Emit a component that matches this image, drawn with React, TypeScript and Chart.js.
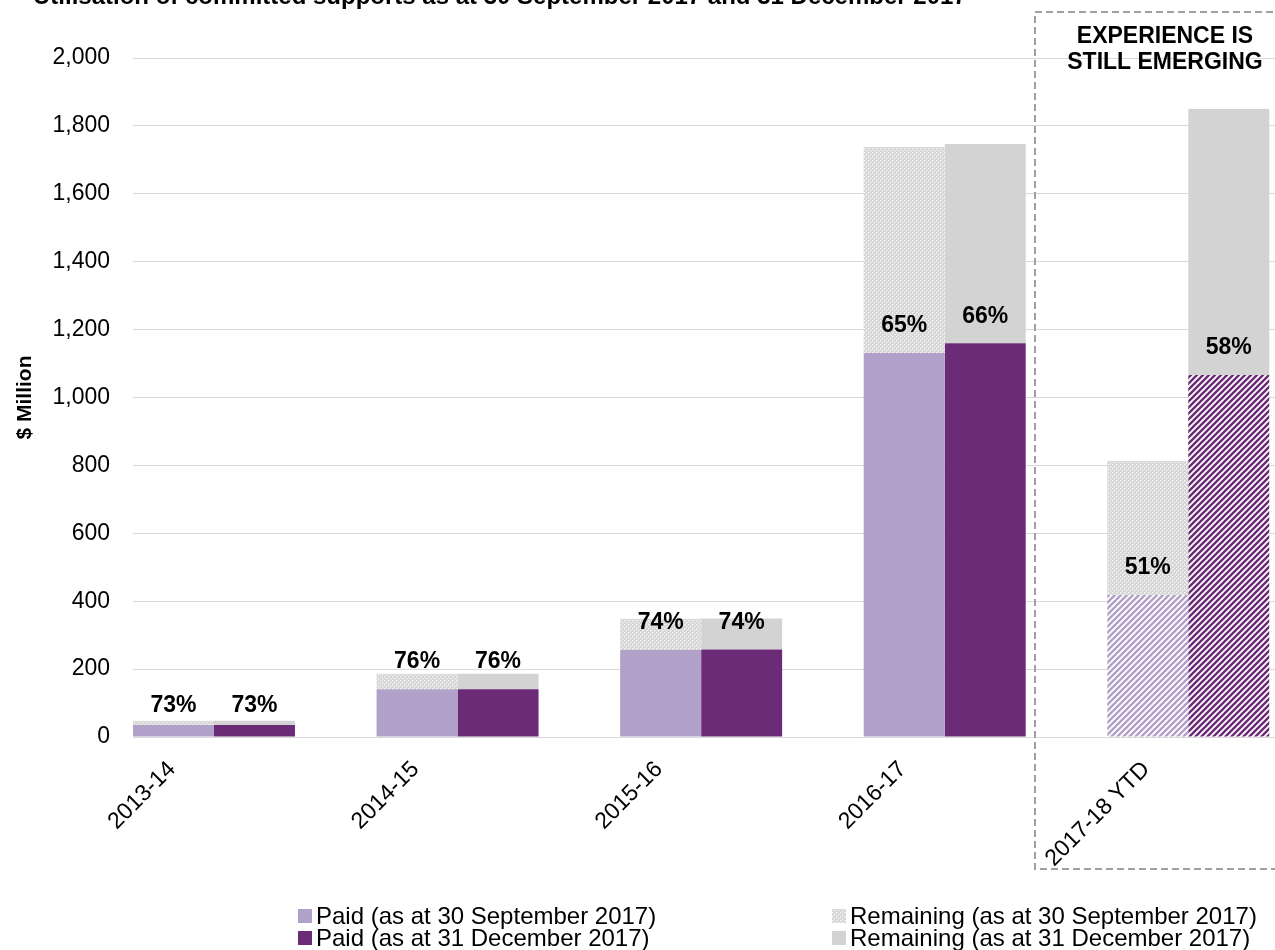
import React, { useEffect, useRef } from 'react';
import { Chart, registerables } from 'chart.js';

Chart.register(...registerables);

const categories = ['2013-14', '2014-15', '2015-16', '2016-17', '2017-18 YTD'];
const paidSep = [35, 141, 256, 1131, 418];
const remainingSep = [13, 45, 92, 607, 395];
const paidDec = [35, 141, 258, 1160, 1066];
const remainingDec = [13, 45, 91, 587, 784];
const pctSep = ['73%', '76%', '74%', '65%', '51%'];
const pctDec = ['73%', '76%', '74%', '66%', '58%'];
const legendLabels = [
  'Paid (as at 30 September 2017)',
  'Paid (as at 31 December 2017)',
  'Remaining (as at 30 September 2017)',
  'Remaining (as at 31 December 2017)',
];
const titleText = 'Utilisation of committed supports as at 30 September 2017 and 31 December 2017';
const boxLines = ['EXPERIENCE IS', 'STILL EMERGING'];
const yAxisTitle = '$ Million';

const FONT = '"Liberation Sans", Arial, sans-serif';
const C_PAID_SEP = '#b1a0c7';
const C_PAID_DEC = '#6c2b76';
const C_REM_DEC = '#d3d3d3';

function makeChecker(): CanvasPattern | string {
  const c = document.createElement('canvas');
  c.width = 4;
  c.height = 4;
  const x = c.getContext('2d');
  if (!x) return '#e0e0e0';
  x.fillStyle = '#d6d6d6';
  x.fillRect(0, 0, 4, 4);
  x.fillStyle = '#f4f4f4';
  x.fillRect(0, 0, 1, 1);
  x.fillRect(2, 2, 1, 1);
  x.fillStyle = '#e6e6e6';
  x.fillRect(1, 0, 1, 1);
  x.fillRect(0, 1, 1, 1);
  x.fillRect(3, 2, 1, 1);
  x.fillRect(2, 3, 1, 1);
  const p = x.createPattern(c, 'repeat');
  return p || '#e0e0e0';
}

function makeStripes(color: string): CanvasPattern | string {
  const s = 6;
  const c = document.createElement('canvas');
  c.width = s;
  c.height = s;
  const x = c.getContext('2d');
  if (!x) return color;
  x.fillStyle = '#ffffff';
  x.fillRect(0, 0, s, s);
  x.strokeStyle = color;
  x.lineWidth = 2.4;
  x.beginPath();
  x.moveTo(-1, s + 1);
  x.lineTo(s + 1, -1);
  x.moveTo(-s / 2 - 1, s / 2 + 1);
  x.lineTo(s / 2 + 1, -s / 2 - 1);
  x.moveTo(s / 2 - 1, s * 1.5 + 1);
  x.lineTo(s * 1.5 + 1, s / 2 - 1);
  x.stroke();
  const p = x.createPattern(c, 'repeat');
  return p || color;
}

export default function App() {
  const ref = useRef<HTMLCanvasElement | null>(null);

  useEffect(() => {
    const canvas = ref.current;
    if (!canvas) return;
    const checker = makeChecker();
    const stripeLight = makeStripes(C_PAID_SEP);
    const stripeDark = makeStripes(C_PAID_DEC);
    const last = categories.length - 1;
    const paidSepColors = categories.map((_, i) => (i === last ? stripeLight : C_PAID_SEP));
    const paidDecColors = categories.map((_, i) => (i === last ? stripeDark : C_PAID_DEC));
    const toXY = (arr: number[]) => arr.map((v, i) => ({ x: i, y: v }));

    const overlay = {
      id: 'overlay',
      afterDraw(chart: any) {
        const ctx = chart.ctx as CanvasRenderingContext2D;
        ctx.save();
        // title (partly cut off at top)
        ctx.fillStyle = '#000';
        ctx.font = `bold 24px ${FONT}`;
        ctx.textAlign = 'left';
        ctx.textBaseline = 'alphabetic';
        ctx.fillText(titleText, 33, 4);

        // dashed box
        ctx.setLineDash([7, 4]);
        ctx.strokeStyle = '#a0a0a0';
        ctx.lineWidth = 2;
        ctx.strokeRect(1035, 12, 320, 857);
        ctx.setLineDash([]);
        ctx.font = `bold 23px ${FONT}`;
        ctx.textAlign = 'center';
        ctx.textBaseline = 'middle';
        ctx.fillText(boxLines[0], 1165, 37);
        ctx.fillText(boxLines[1], 1165, 63);

        // percentage labels
        const mPS = chart.getDatasetMeta(0);
        const mRS = chart.getDatasetMeta(1);
        const mPD = chart.getDatasetMeta(2);
        const mRD = chart.getDatasetMeta(3);
        ctx.font = `bold 23px ${FONT}`;
        for (let i = 0; i < categories.length; i++) {
          const pairs: [any, any, string][] = [
            [mPS.data[i], mRS.data[i], pctSep[i]],
            [mPD.data[i], mRD.data[i], pctDec[i]],
          ];
          for (const [p, r, t] of pairs) {
            const y = Math.max(p.y - 27, r.y - 15);
            ctx.fillText(t, p.x, y);
          }
        }

        // legend
        const items = [
          { color: C_PAID_SEP, label: legendLabels[0], x: 298, y: 916 },
          { color: C_PAID_DEC, label: legendLabels[1], x: 298, y: 938 },
          { color: checker, label: legendLabels[2], x: 832, y: 916 },
          { color: C_REM_DEC, label: legendLabels[3], x: 832, y: 938 },
        ];
        ctx.font = `24px ${FONT}`;
        ctx.textAlign = 'left';
        ctx.textBaseline = 'middle';
        for (const it of items) {
          ctx.fillStyle = it.color as any;
          ctx.fillRect(it.x, it.y - 7, 14, 14);
          ctx.fillStyle = '#000';
          ctx.fillText(it.label, it.x + 18, it.y + 1);
        }
        ctx.restore();
      },
    };

    const chart = new Chart(canvas, {
      type: 'bar',
      data: {
        datasets: [
          { label: legendLabels[0], data: toXY(paidSep) as any, backgroundColor: paidSepColors as any, stack: 'sep' },
          { label: legendLabels[2], data: toXY(remainingSep) as any, backgroundColor: checker as any, stack: 'sep' },
          { label: legendLabels[1], data: toXY(paidDec) as any, backgroundColor: paidDecColors as any, stack: 'dec' },
          { label: legendLabels[3], data: toXY(remainingDec) as any, backgroundColor: C_REM_DEC, stack: 'dec' },
        ],
      },
      options: {
        responsive: false,
        animation: false,
        devicePixelRatio: 1,
        categoryPercentage: 0.665,
        barPercentage: 1.0,
        layout: { padding: { top: 58, left: 0, right: 0, bottom: 0 } },
        plugins: {
          legend: { display: false },
          title: { display: false },
          tooltip: { enabled: false },
        },
        scales: {
          x: {
            type: 'linear',
            offset: false,
            bounds: 'data',
            min: -0.3325,
            max: 4.356,
            grid: { display: false, offset: false },
            border: { display: false },
            afterBuildTicks: (scale: any) => {
              scale.ticks = categories.map((_, i) => ({ value: i }));
            },
            afterFit: (scale: any) => {
              scale.height = 950 - 737;
            },
            ticks: {
              autoSkip: false,
              minRotation: 45,
              maxRotation: 45,
              labelOffset: -42,
              padding: 11,
              color: '#000',
              font: { family: FONT, size: 23 },
              callback: (v: any) => categories[Number(v)] ?? '',
            },
          },
          y: {
            stacked: true,
            min: 0,
            max: 2000,
            afterFit: (scale: any) => {
              scale.width = 133;
            },
            grid: { color: '#d9d9d9', lineWidth: 1, drawTicks: false },
            border: { display: false },
            ticks: {
              stepSize: 200,
              padding: 23,
              color: '#000',
              font: { family: FONT, size: 23 },
              callback: (v: any) => Number(v).toLocaleString('en-US'),
            },
            title: {
              display: true,
              text: yAxisTitle,
              color: '#000',
              font: { family: FONT, size: 21, weight: 'bold' },
              padding: { top: 13, bottom: 0 },
            },
          },
        },
      },
      plugins: [overlay],
    });
    return () => chart.destroy();
  }, []);

  return (
    <div style={{ position: 'fixed', left: 0, top: 0, width: 1275, height: 950, overflow: 'hidden', background: '#fff' }}>
      <canvas ref={ref} width={1275} height={950} style={{ display: 'block' }} />
    </div>
  );
}
